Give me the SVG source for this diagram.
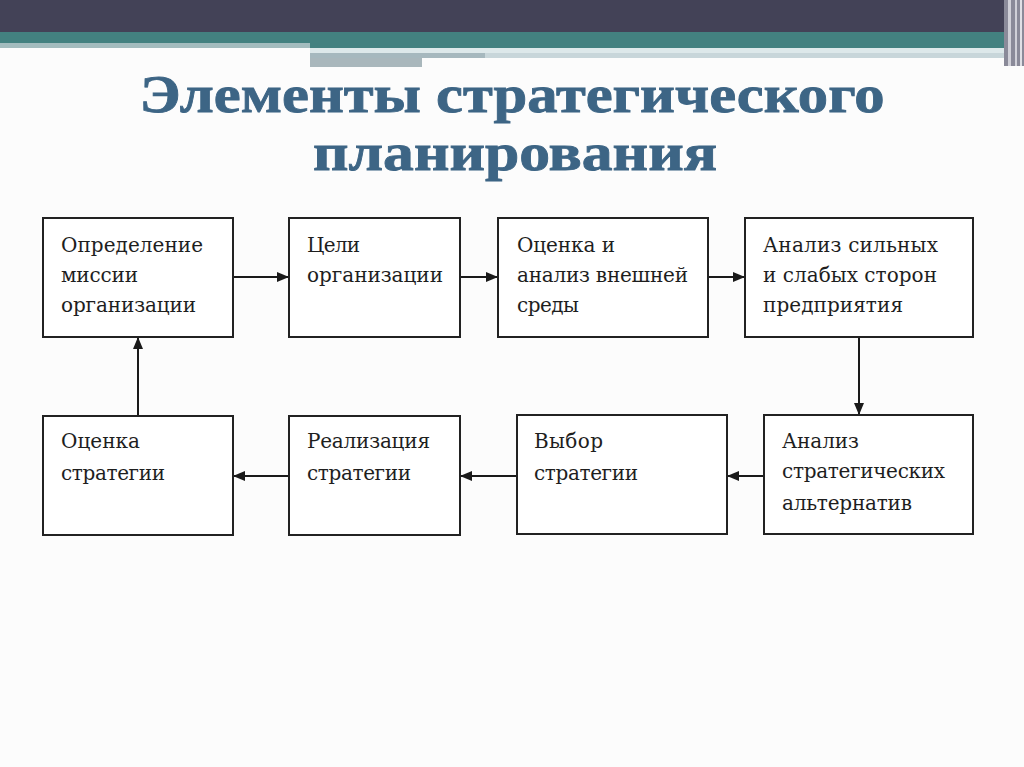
<svg xmlns="http://www.w3.org/2000/svg" width="1024" height="767" viewBox="0 0 1024 767">
<defs>
<marker id="ah" markerWidth="12" markerHeight="10" refX="11" refY="5" orient="auto" markerUnits="userSpaceOnUse">
<path d="M0,0 L12,5 L0,10 Z" fill="#1a1a1a"/>
</marker>
<style>
.box{fill:#ffffff;stroke:#222;stroke-width:2}
.t{font-family:"DejaVu Serif","Liberation Serif",serif;font-size:20px;fill:#1e1e1e}
.title{font-family:"Liberation Serif","DejaVu Serif",serif;font-weight:bold;font-size:52px;fill:#3d6585;stroke:#3d6585;stroke-width:0.8}
.c{stroke:#1a1a1a;stroke-width:2;fill:none;marker-end:url(#ah)}
</style>
</defs>
<rect x="0" y="0" width="1024" height="767" fill="#fcfcfc"/>
<g id="header">
<rect x="0" y="0" width="1024" height="32" fill="#434257"/>
<rect x="0" y="32" width="1010" height="11" fill="#438180"/>
<rect x="0" y="43" width="310" height="5" fill="#a3bcbe"/>
<rect x="310" y="43" width="700" height="5" fill="#438180"/>
<rect x="310" y="48" width="700" height="5" fill="#dde8ea"/>
<rect x="310" y="53" width="175" height="5" fill="#a6b8be"/>
<rect x="485" y="53" width="525" height="5" fill="#c8d6da"/>
<rect x="310" y="58" width="112" height="9" fill="#a9b7bc"/>
<rect x="1004" y="0" width="20" height="66" fill="#8a8a99"/>
<rect x="1008" y="0" width="3" height="66" fill="#d0d0d8"/>
<rect x="1015" y="0" width="2" height="66" fill="#d0d0d8"/>
<rect x="1020" y="0" width="2" height="66" fill="#e0e0e6"/>
</g>
<g id="title">
<text class="title" x="512" y="112" text-anchor="middle" textLength="745" lengthAdjust="spacingAndGlyphs">Элементы стратегического</text>
<text class="title" x="515" y="170" text-anchor="middle" textLength="404" lengthAdjust="spacingAndGlyphs">планирования</text>
</g>
<g id="connectors">
<line class="c" x1="233" y1="277" x2="288" y2="277"/>
<line class="c" x1="460" y1="277" x2="497" y2="277"/>
<line class="c" x1="708" y1="277" x2="744" y2="277"/>
<line class="c" x1="859" y1="337" x2="859" y2="414"/>
<line class="c" x1="764" y1="476" x2="728" y2="476"/>
<line class="c" x1="517" y1="476" x2="461" y2="476"/>
<line class="c" x1="289" y1="476" x2="234" y2="476"/>
<line class="c" x1="138" y1="416" x2="138" y2="338"/>
</g>
<g id="n1">
<rect class="box" x="43" y="218" width="190" height="119"/>
<text class="t" x="61" y="252" textLength="142">Определение</text>
<text class="t" x="61" y="282" textLength="77">миссии</text>
<text class="t" x="61" y="312" textLength="135">организации</text>
</g>
<g id="n2">
<rect class="box" x="289" y="218" width="171" height="119"/>
<text class="t" x="307" y="252" textLength="53">Цели</text>
<text class="t" x="307" y="282" textLength="136">организации</text>
</g>
<g id="n3">
<rect class="box" x="498" y="218" width="210" height="119"/>
<text class="t" x="517" y="252" textLength="98">Оценка и</text>
<text class="t" x="517" y="282" textLength="171">анализ внешней</text>
<text class="t" x="517" y="312" textLength="62">среды</text>
</g>
<g id="n4">
<rect class="box" x="745" y="218" width="228" height="119"/>
<text class="t" x="763" y="252" textLength="175">Анализ сильных</text>
<text class="t" x="763" y="282" textLength="174">и слабых сторон</text>
<text class="t" x="763" y="312" textLength="140">предприятия</text>
</g>
<g id="n5">
<rect class="box" x="43" y="416" width="190" height="119"/>
<text class="t" x="61" y="448" textLength="79">Оценка</text>
<text class="t" x="61" y="480" textLength="104">стратегии</text>
</g>
<g id="n6">
<rect class="box" x="289" y="416" width="171" height="119"/>
<text class="t" x="307" y="448" textLength="123">Реализация</text>
<text class="t" x="307" y="480" textLength="104">стратегии</text>
</g>
<g id="n7">
<rect class="box" x="517" y="415" width="210" height="119"/>
<text class="t" x="534" y="448" textLength="69">Выбор</text>
<text class="t" x="534" y="480" textLength="104">стратегии</text>
</g>
<g id="n8">
<rect class="box" x="764" y="415" width="209" height="119"/>
<text class="t" x="782" y="448" textLength="77">Анализ</text>
<text class="t" x="782" y="478" textLength="163">стратегических</text>
<text class="t" x="782" y="510" textLength="130">альтернатив</text>
</g>
</svg>
